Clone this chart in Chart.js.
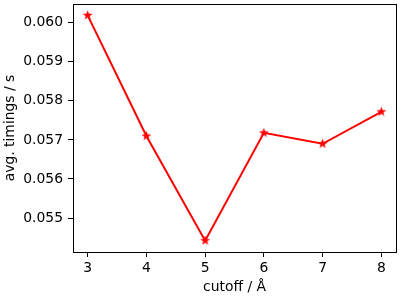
<!DOCTYPE html>
<html>
<head>
<meta charset="utf-8">
<script src="https://cdn.jsdelivr.net/npm/chart.js@4.4.1/dist/chart.umd.min.js"></script>
<style>
  body { margin: 0; background: #fff; }
  canvas { display: block; }
</style>
</head>
<body>
<canvas id="timings" width="400" height="300"></canvas>
<script>
const cutoffs = [3, 4, 5, 6, 7, 8];
const timings = [0.06019, 0.05710, 0.05442, 0.05718, 0.05690, 0.05772];
const xTicks = [3, 4, 5, 6, 7, 8];
const yTicks = [0.055, 0.056, 0.057, 0.058, 0.059, 0.060];

const FONT = { family: 'DejaVu Sans', size: 13.9 };

// filled 5 point star like matplotlib's '*' marker
function starMarker(r, color) {
    const c = document.createElement('canvas');
    const s = Math.ceil(r * 2 + 2);
    c.width = s; c.height = s;
    const g = c.getContext('2d');
    g.fillStyle = color;
    g.beginPath();
    for (let i = 0; i < 10; i++) {
        const rad = i % 2 === 0 ? r : r * 0.4;
        const a = -Math.PI / 2 + i * Math.PI / 5;
        const px = s / 2 + rad * Math.cos(a);
        const py = s / 2 + rad * Math.sin(a);
        if (i === 0) g.moveTo(px, py); else g.lineTo(px, py);
    }
    g.closePath();
    g.fill();
    return c;
}

// top and right spines
const frame = {
    id: 'frame',
    afterDraw: (chart) => {
        const a = chart.chartArea;
        const ctx = chart.ctx;
        ctx.save();
        ctx.strokeStyle = '#000';
        ctx.lineWidth = 1;
        ctx.strokeRect(Math.round(a.left) + 0.5, Math.round(a.top) + 0.5,
                       Math.round(a.right - a.left), Math.round(a.bottom - a.top));
        ctx.restore();
    }
};

new Chart(document.getElementById('timings').getContext('2d'), {
    type: 'line',
    data: {
        datasets: [{
            data: cutoffs.map((c, i) => ({ x: c, y: timings[i] })),
            borderColor: '#ff0000',
            borderWidth: 2,
            tension: 0,
            pointStyle: starMarker(5.2, '#ff0000'),
            pointRadius: 6,
            clip: false
        }]
    },
    options: {
        responsive: false,
        animation: false,
        layout: { autoPadding: false, padding: { top: 4, right: 4, left: 0, bottom: 0 } },
        plugins: { legend: { display: false }, tooltip: { enabled: false } },
        scales: {
            x: {
                type: 'linear',
                min: 2.75,
                max: 8.25,
                afterBuildTicks: (scale) => { scale.ticks = xTicks.map(v => ({ value: v })); },
                afterFit: (scale) => { scale.height = 48; scale.paddingLeft = 0; scale.paddingRight = 0; },
                ticks: { color: '#000', font: FONT, padding: 3, maxRotation: 0,
                         callback: (v) => String(v) },
                grid: { drawOnChartArea: false, drawTicks: true, tickLength: 5, color: '#000' },
                border: { display: true, color: '#000', width: 1 },
                title: { display: true, text: 'cutoff / Å', color: '#000', font: FONT,
                         padding: { top: 0, bottom: 4 } }
            },
            y: {
                min: 0.05413,
                max: 0.06048,
                afterBuildTicks: (scale) => { scale.ticks = yTicks.map(v => ({ value: v })); },
                afterFit: (scale) => { scale.width = 73; scale.paddingTop = 0; scale.paddingBottom = 0; },
                ticks: { color: '#000', font: FONT, padding: 5,
                         callback: (v) => v.toFixed(3) },
                grid: { drawOnChartArea: false, drawTicks: true, tickLength: 5, color: '#000' },
                border: { display: true, color: '#000', width: 1 },
                title: { display: true, text: 'avg. timings / s', color: '#000', font: FONT,
                         padding: { top: 2, bottom: 0 } }
            }
        }
    },
    plugins: [frame]
});
</script>
</body>
</html>
